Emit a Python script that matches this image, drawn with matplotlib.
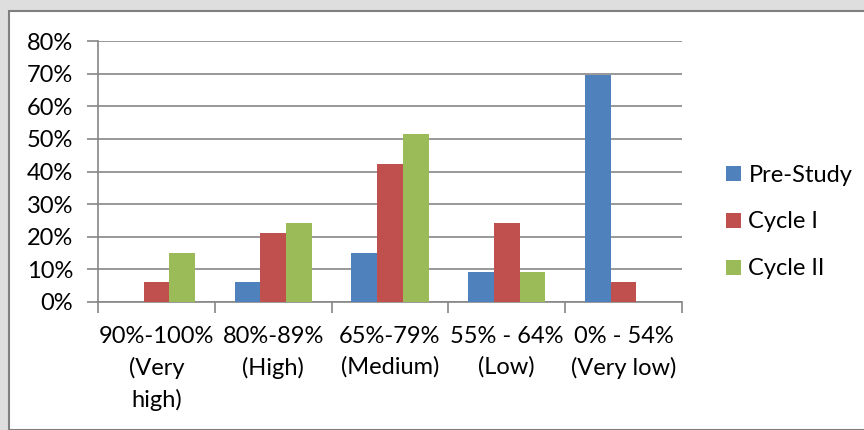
import numpy as np
import matplotlib.pyplot as plt
from matplotlib.patches import Rectangle, Patch

plt.rcParams['font.family'] = ['Lato', 'DejaVu Sans']

# Share of students (out of 33) per score band
categories = ["90%-100%\n(Very\nhigh)", "80%-89%\n(High)", "65%-79%\n(Medium)",
              "55% - 64%\n(Low)", "0% - 54%\n(Very low)"]
series_names = ["Pre-Study", "Cycle I", "Cycle II"]
pre_study = [0 / 33, 2 / 33, 5 / 33, 3 / 33, 23 / 33]
cycle_1 = [2 / 33, 7 / 33, 14 / 33, 8 / 33, 2 / 33]
cycle_2 = [5 / 33, 8 / 33, 17 / 33, 3 / 33, 0 / 33]
colors = ["#4F81BD", "#C0504D", "#9BBB59"]

W, H = 864, 430
fig = plt.figure(figsize=(W / 100, H / 100), dpi=100, facecolor="#dedede")

# white chart area with grey border
fig.patches.append(Rectangle((9 / W, 0), 1, 1 - 11 / H, transform=fig.transFigure,
                             facecolor="white", edgecolor="#7f7f7f", linewidth=1.5,
                             zorder=-1))

ax = fig.add_axes([98 / W, 1 - 302 / H, (682 - 98) / W, (302 - 41) / H])
ax.set_facecolor("white")

x = np.arange(len(categories))
bw = 0.22
for i, (vals, name) in enumerate(zip([pre_study, cycle_1, cycle_2], series_names)):
    ax.bar(x + (i - 1) * bw, vals, width=bw, color=colors[i], label=name, zorder=3)

ax.set_xlim(-0.5, len(categories) - 0.5)
ax.set_ylim(0, 0.8)
ax.set_yticks(np.arange(0, 0.81, 0.1))
ax.set_yticklabels([f"{int(round(v * 100))}%" for v in np.arange(0, 0.81, 0.1)])
ax.yaxis.grid(True, color="#868686", linewidth=1.2, zorder=0)

ax.set_xticks(x)
ax.set_xticklabels(categories, linespacing=1.55)
ax.set_xticks(np.arange(-0.5, len(categories)), minor=True)
ax.tick_params(axis="x", which="major", length=0, pad=17, labelsize=17)
ax.tick_params(axis="x", which="minor", length=8, width=1.2, color="#868686")
ax.tick_params(axis="y", length=8, width=1.2, color="#868686", pad=10, labelsize=17)

for side in ["top", "right"]:
    ax.spines[side].set_visible(False)
for side in ["left", "bottom"]:
    ax.spines[side].set_color("#868686")
    ax.spines[side].set_linewidth(1.2)

handles = [Patch(facecolor=c, label=n) for c, n in zip(colors, series_names)]
fig.legend(handles=handles, loc="center left", bbox_to_anchor=(705 / W, 1 - 222 / H),
           frameon=False, fontsize=17, handlelength=0.62, handleheight=0.62,
           handletextpad=0.32, labelspacing=1.1)

fig.savefig("out.png", dpi=100, facecolor=fig.get_facecolor())
